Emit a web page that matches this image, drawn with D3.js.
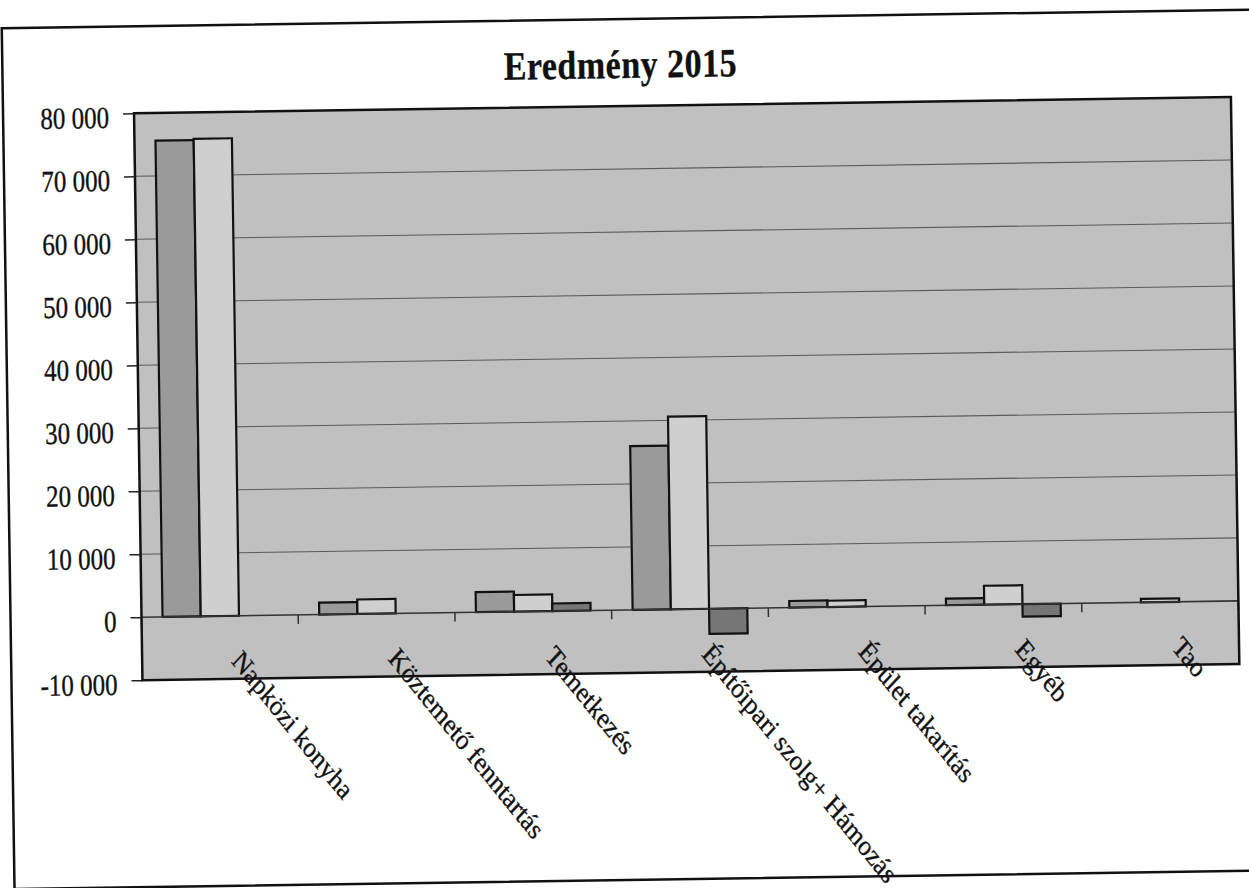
<!DOCTYPE html>
<html>
<head>
<meta charset="utf-8">
<script src="https://cdn.jsdelivr.net/npm/d3@7"></script>
<style>
  body { margin: 0; background: #fff; }
  svg text { font-family: "Liberation Serif", "Times New Roman", serif; fill: #111; stroke: #111; stroke-width: 0.3px; }
</style>
</head>
<body>
<div id="chart"></div>
<script>
// data
const categories = ['Napközi konyha', 'Köztemető fenntartás', 'Temetkezés',
    'Építőipari szolg+ Hámozás', 'Épület takarítás', 'Egyéb', 'Tao']
const series1 = [75600, 1900, 3200, 26000, 1050, 1050, 0]
const series2 = [75800, 2300, 2650, 30600, 1000, 3000, 550]
const series3 = [0, 0, 1200, -4000, 0, -2000, 0]
const yTicks = [-10000, 0, 10000, 20000, 30000, 40000, 50000, 60000, 70000, 80000]
const titleText = 'Eredmény 2015'

const w = 1249
const h = 888
const pLeft = 139, pRight = 1236, pTop = 106, pBottom = 673
const fills = ['#9a9a9a', '#cfcfcf', '#767676']

const rows = categories.map((c, i) => ({cat: c, vals: [series1[i], series2[i], series3[i]]}))

const svg = d3.select('#chart')
    .append('svg')
    .attr('width', w)
    .attr('height', h)

// the scan is slightly tilted
const g = svg.append('g').attr('transform', 'rotate(-0.85,625,444)')

// outer frame
g.append('rect')
    .attr('x', 8).attr('y', 19)
    .attr('width', 1270).attr('height', 861)
    .attr('fill', 'none').attr('stroke', '#111').attr('stroke-width', 2.5)

g.append('text')
    .attr('transform', 'translate(626,78) scale(1,1.18)')
    .attr('text-anchor', 'middle')
    .style('font-size', '34px')
    .style('font-weight', 'bold')
    .style('letter-spacing', '0.5px')
    .text(titleText)

const xScale = d3.scaleBand()
    .domain(categories)
    .range([pLeft, pRight])

const inner = d3.scaleBand()
    .domain([0, 1, 2])
    .range([0, xScale.bandwidth()])
    .paddingOuter(0.55)

const yScale = d3.scaleLinear()
    .domain([-10000, 80000])
    .range([pBottom, pTop])

// plot area
g.append('rect')
    .attr('x', pLeft).attr('y', pTop)
    .attr('width', pRight - pLeft).attr('height', pBottom - pTop)
    .attr('fill', '#c0c0c0')

// gridlines
g.selectAll('line.grid')
    .data(yTicks.filter(t => t !== 0 && t !== 80000 && t !== -10000))
    .enter()
    .append('line')
    .attr('class', 'grid')
    .attr('x1', pLeft).attr('x2', pRight)
    .attr('y1', d => yScale(d)).attr('y2', d => yScale(d))
    .attr('stroke', '#5a5a5a').attr('stroke-width', 1.1)

// bars
const groups = g.selectAll('g.cat')
    .data(rows)
    .enter()
    .append('g')
    .attr('class', 'cat')
    .attr('transform', d => 'translate(' + xScale(d.cat) + ',0)')

groups.selectAll('rect')
    .data(d => d.vals.map((v, k) => ({k: k, v: v})).filter(d => d.v !== 0))
    .enter()
    .append('rect')
    .attr('x', d => inner(d.k))
    .attr('width', inner.bandwidth())
    .attr('y', d => yScale(Math.max(0, d.v)))
    .attr('height', d => Math.abs(yScale(d.v) - yScale(0)))
    .attr('fill', d => fills[d.k])
    .attr('stroke', '#111')
    .attr('stroke-width', 2.2)

// zero line and category ticks
g.append('line')
    .attr('x1', pLeft).attr('x2', pRight)
    .attr('y1', yScale(0)).attr('y2', yScale(0))
    .attr('stroke', '#333').attr('stroke-width', 1.6)

const bounds = categories.map(c => xScale(c)).concat([pRight])
g.selectAll('line.xtick')
    .data(bounds)
    .enter()
    .append('line')
    .attr('class', 'xtick')
    .attr('x1', d => d).attr('x2', d => d)
    .attr('y1', yScale(0)).attr('y2', yScale(0) + 9)
    .attr('stroke', '#333').attr('stroke-width', 1.5)

// plot border
g.append('rect')
    .attr('x', pLeft).attr('y', pTop)
    .attr('width', pRight - pLeft).attr('height', pBottom - pTop)
    .attr('fill', 'none').attr('stroke', '#111').attr('stroke-width', 2.5)

// y axis
const loc = d3.formatLocale({decimal: ',', thousands: ' ', grouping: [3], currency: ['', ''], minus: '-'})
const yAxis = d3.axisLeft(yScale)
    .tickValues(yTicks)
    .tickFormat(loc.format(','))
    .tickSize(11)
    .tickPadding(14)

const ya = g.append('g')
    .attr('id', 'y-axis')
    .attr('transform', 'translate(' + pLeft + ',0)')
    .call(yAxis)
ya.select('.domain').remove()
ya.selectAll('line').attr('stroke', '#222').attr('stroke-width', 1.5)
ya.selectAll('text')
    .attr('transform', 'translate(0,4) scale(1,1.22)')
    .style('font-size', '25px')
    .attr('fill', '#111')

// category labels, rotated
g.selectAll('text.cat')
    .data(categories)
    .enter()
    .append('text')
    .attr('class', 'cat')
    .attr('transform', d => 'translate(' + (xScale(d) + xScale.bandwidth() / 2 + 10) + ',656) scale(1,1.15) rotate(48)')
    .style('font-size', '25px')
    .text(d => d)
</script>
</body>
</html>
